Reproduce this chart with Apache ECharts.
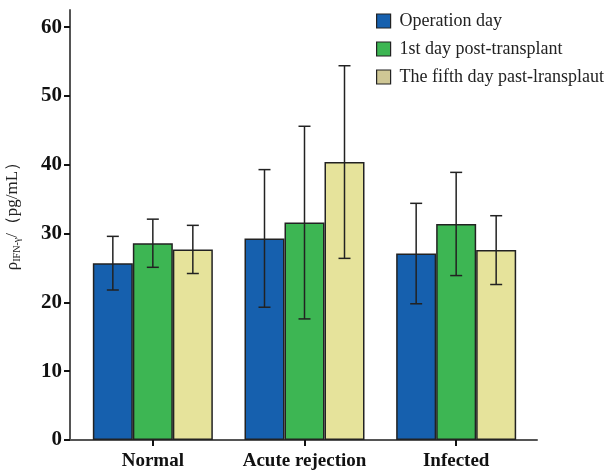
<!DOCTYPE html>
<html>
<head>
<meta charset="utf-8">
<script src="https://cdn.jsdelivr.net/npm/echarts@6/dist/echarts.min.js"></script>
<style>html,body{margin:0;padding:0;background:#fff}#c{width:616px;height:476px}</style>
</head>
<body>
<div id="c"></div>
<script>
const categories = ['Normal', 'Acute rejection', 'Infected'];
const seriesNames = ['Operation day', '1st day post-transplant', 'The fifth day past-lransplaut'];
const means = [
  [25.7, 29.3, 27.1],
  [28.6, 31.6, 31.4],
  [27.7, 40.4, 27.6]
];
const errs = [
  [3.9, 10.0, 7.3],
  [3.5, 14.0, 7.5],
  [3.5, 14.0, 5.0]
];
const yTicks = [0, 10, 20, 30, 40, 50, 60];
const barColors = ['#1660ae', '#3db653', '#e6e39b'];
const legendColors = ['#1660ae', '#3db653', '#cfc795'];

const chart = echarts.init(document.getElementById('c'), null, {renderer: 'canvas'});
const serif = 'Liberation Serif';
const barW = 40;

const series = [];
means.forEach((vals, si) => {
  series.push({
    name: seriesNames[si],
    type: 'bar',
    data: vals,
    barWidth: barW,
    barGap: '0%',
    itemStyle: {color: barColors[si], borderColor: '#222', borderWidth: 1.5},
    z: 2
  });
});
means.forEach((vals, si) => {
  series.push({
    type: 'custom',
    name: 'err' + si,
    data: vals.map((v, i) => [i, v - errs[si][i], v + errs[si][i]]),
    z: 5,
    renderItem: function (params, api) {
      const ci = api.value(0);
      const lo = api.coord([ci, api.value(1)]);
      const hi = api.coord([ci, api.value(2)]);
      const x = lo[0] + (si - 1) * barW;
      const cap = 6;
      const st = {stroke: '#222', lineWidth: 1.5};
      return {
        type: 'group',
        children: [
          {type: 'line', shape: {x1: x, y1: lo[1], x2: x, y2: hi[1]}, style: st},
          {type: 'line', shape: {x1: x - cap, y1: hi[1], x2: x + cap, y2: hi[1]}, style: st},
          {type: 'line', shape: {x1: x - cap, y1: lo[1], x2: x + cap, y2: lo[1]}, style: st}
        ]
      };
    },
    encode: {x: 0, y: [1, 2]},
    silent: true
  });
});

chart.setOption({
  animation: false,
  backgroundColor: '#fff',
  grid: [
    {left: 77, right: 84, top: 10, bottom: 36, containLabel: false, outerBoundsMode: 'none'},
    {left: 70, right: 79, top: 10, bottom: 36, containLabel: false, outerBoundsMode: 'none'}
  ],
  legend: {
    orient: 'vertical',
    left: 371,
    top: 7,
    itemWidth: 14,
    itemHeight: 14,
    itemGap: 10,
    icon: 'rect',
    data: seriesNames.map((n, i) => ({name: n, itemStyle: {color: legendColors[i], borderColor: '#222', borderWidth: 1.2}})),
    textStyle: {fontFamily: serif, fontSize: 18, color: '#222', padding: [0, 0, 0, 4]}
  },
  xAxis: [{
    type: 'category',
    gridIndex: 0,
    data: categories,
    axisLine: {show: false},
    axisTick: {show: true, alignWithLabel: true, length: 6, lineStyle: {color: '#111', width: 2}},
    axisLabel: {interval: 0, fontFamily: serif, fontWeight: 'bold', fontSize: 19, color: '#111', margin: 12}
  }, {
    type: 'value',
    gridIndex: 1,
    min: 0,
    max: 1,
    axisLine: {show: true, lineStyle: {color: '#555', width: 2}},
    axisTick: {show: false},
    axisLabel: {show: false},
    splitLine: {show: false}
  }],
  yAxis: [{
    type: 'value',
    gridIndex: 0,
    min: 0,
    max: 62.5,
    interval: 10,
    offset: 7,
    splitLine: {show: false},
    axisLine: {show: true, lineStyle: {color: '#555', width: 2}},
    axisTick: {show: true, length: 6, customValues: yTicks, lineStyle: {color: '#111', width: 2}},
    axisLabel: {fontFamily: serif, fontWeight: 'bold', fontSize: 21, color: '#111', margin: 8, customValues: yTicks},
    name: '{a|ρ}{s|IFN-γ}{a|/（pg/mL）}',
    nameLocation: 'middle',
    nameRotate: 90,
    nameGap: 48,
    nameTextStyle: {
      padding: [0, 0, 0, 26],
      rich: {
        a: {fontFamily: serif, fontSize: 17, color: '#222'},
        s: {fontFamily: serif, fontSize: 10, color: '#222', padding: [8, 0, 0, 0]}
      }
    }
  }, {
    type: 'value',
    gridIndex: 1,
    show: false
  }],
  series: series
});
</script>
</body>
</html>
